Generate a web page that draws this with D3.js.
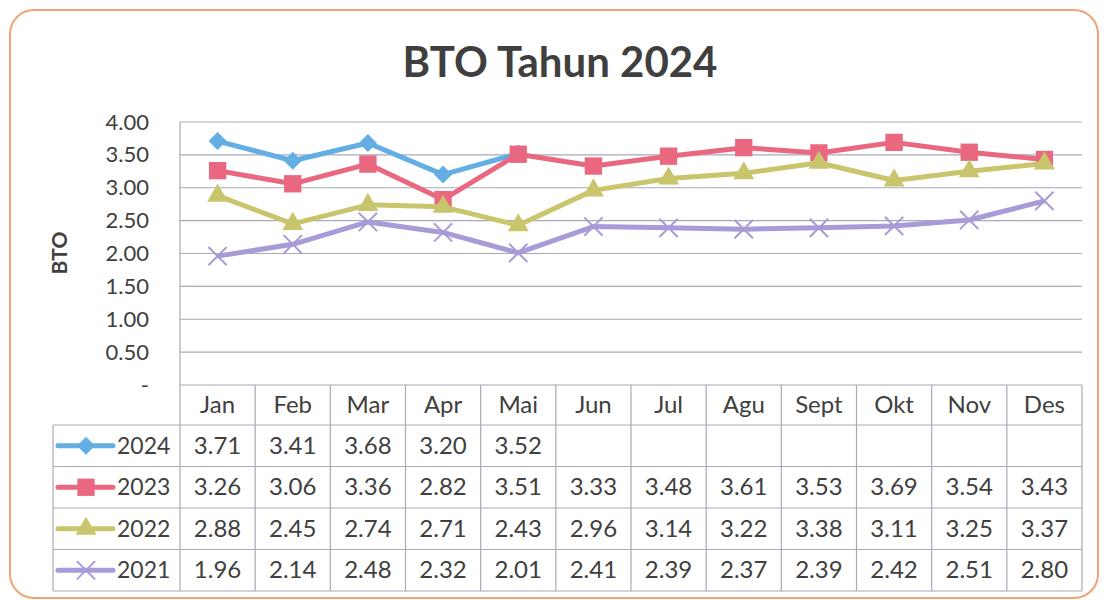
<!DOCTYPE html>
<html>
<head>
<meta charset="utf-8">
<script src="https://cdn.jsdelivr.net/npm/d3@7"></script>
<style>
  body { margin: 0; background: #fff; }
  text { font-family: Lato, "Open Sans", sans-serif; fill: #404040; }
</style>
</head>
<body>
<svg width="1104" height="600"></svg>
<script>
const months = ["Jan", "Feb", "Mar", "Apr", "Mai", "Jun", "Jul", "Agu", "Sept", "Okt", "Nov", "Des"];
const years = ["2024", "2023", "2022", "2021"];
const bto2024 = [3.71, 3.41, 3.68, 3.20, 3.52];
const bto2023 = [3.26, 3.06, 3.36, 2.82, 3.51, 3.33, 3.48, 3.61, 3.53, 3.69, 3.54, 3.43];
const bto2022 = [2.88, 2.45, 2.74, 2.71, 2.43, 2.96, 3.14, 3.22, 3.38, 3.11, 3.25, 3.37];
const bto2021 = [1.96, 2.14, 2.48, 2.32, 2.01, 2.41, 2.39, 2.37, 2.39, 2.42, 2.51, 2.80];
const yTicks = [0, 0.5, 1, 1.5, 2, 2.5, 3, 3.5, 4];

const series = [
    { year: "2024", values: bto2024, color: "#63aee3", marker: "diamond" },
    { year: "2023", values: bto2023, color: "#e9677f", marker: "square" },
    { year: "2022", values: bto2022, color: "#c9c56d", marker: "triangle" },
    { year: "2021", values: bto2021, color: "#a99bd8", marker: "x" }
];

const svg = d3.select("svg");
const plotLeft = 180, plotRight = 1082, plotTop = 122, plotBottom = 385;
const tableLeft = 53, tableBottom = 591;
const gridColor = "#a9a9b8";

// frame
svg.append("rect")
    .attr("x", 10).attr("y", 10)
    .attr("width", 1088).attr("height", 588)
    .attr("rx", 24)
    .attr("fill", "#fff")
    .attr("stroke", "#f2a27a")
    .attr("stroke-width", 2);

// title
svg.append("text")
    .attr("x", 560).attr("y", 77)
    .attr("text-anchor", "middle")
    .attr("font-size", 42)
    .attr("font-weight", "bold")
    .style("fill", "#3f3f3f")
    .text("BTO Tahun 2024");

const x = d3.scaleBand().domain(months).range([plotLeft, plotRight]);
const y = d3.scaleLinear().domain([0, 4]).range([plotBottom, plotTop]);
const row = d3.scaleBand().domain(years).range([plotBottom + 40, tableBottom]);

// gridlines
svg.append("g")
    .selectAll("line")
    .data(yTicks)
    .join("line")
    .attr("x1", plotLeft).attr("x2", plotRight)
    .attr("y1", d => y(d)).attr("y2", d => y(d))
    .attr("stroke", gridColor)
    .attr("stroke-width", 1.2);

// y axis labels
const yAxis = svg.append("g")
    .attr("transform", `translate(${plotLeft},0)`)
    .call(d3.axisLeft(y)
        .tickValues(yTicks)
        .tickSize(0)
        .tickPadding(31)
        .tickFormat(d => d === 0 ? "-" : d3.format(".2f")(d)));
yAxis.select(".domain").remove();
yAxis.selectAll("text")
    .attr("font-size", 22)
    .style("font-family", "Lato, sans-serif")
    .style("fill", "#404040");

svg.append("text")
    .attr("transform", "translate(67,253) rotate(-90)")
    .attr("text-anchor", "middle")
    .attr("font-size", 21)
    .attr("font-weight", "bold")
    .text("BTO");

// table lines
const table = svg.append("g").attr("stroke", gridColor).attr("stroke-width", 1.2);
table.append("line")
    .attr("x1", plotLeft).attr("x2", plotLeft)
    .attr("y1", plotTop).attr("y2", tableBottom);
table.selectAll(".col")
    .data(months)
    .join("line")
    .attr("x1", d => x(d) + x.bandwidth()).attr("x2", d => x(d) + x.bandwidth())
    .attr("y1", plotBottom).attr("y2", tableBottom);
table.selectAll(".row")
    .data(years)
    .join("line")
    .attr("x1", tableLeft).attr("x2", plotRight)
    .attr("y1", d => row(d)).attr("y2", d => row(d));
table.append("line")
    .attr("x1", tableLeft).attr("x2", plotRight)
    .attr("y1", tableBottom).attr("y2", tableBottom);
table.append("line")
    .attr("x1", tableLeft).attr("x2", tableLeft)
    .attr("y1", row(years[0])).attr("y2", tableBottom);

// month header
svg.append("g")
    .selectAll("text")
    .data(months)
    .join("text")
    .attr("x", d => x(d) + x.bandwidth() / 2)
    .attr("y", plotBottom + 28)
    .attr("text-anchor", "middle")
    .attr("font-size", 24)
    .text(d => d);

// markers
function markerPath(type) {
    if (type === "diamond") return "M0,-9L9,0L0,9L-9,0Z";
    if (type === "square") return d3.symbol(d3.symbolSquare, 300)();
    if (type === "triangle") return d3.symbol(d3.symbolTriangle, 190)();
    return d3.symbol(d3.symbolX, 220)();
}
function drawMarker(g, s) {
    g.append("path")
        .attr("d", markerPath(s.marker))
        .attr("fill", s.marker === "x" ? "none" : s.color)
        .attr("stroke", s.color)
        .attr("stroke-width", s.marker === "x" ? 2 : 0);
}

const line = d3.line()
    .x((d, i) => x(months[i]) + x.bandwidth() / 2)
    .y(d => y(d));

series.forEach(s => {
    const g = svg.append("g");
    g.append("path")
        .datum(s.values)
        .attr("d", line)
        .attr("fill", "none")
        .attr("stroke", s.color)
        .attr("stroke-width", 5)
        .attr("stroke-linejoin", "round");
    g.selectAll(".pt")
        .data(s.values)
        .join("g")
        .attr("transform", (d, i) => `translate(${x(months[i]) + x.bandwidth() / 2},${y(d)})`)
        .each(function() { drawMarker(d3.select(this), s); });

    // table row
    const cy = row(s.year) + row.bandwidth() / 2;
    const key = svg.append("g");
    key.append("line")
        .attr("x1", 58).attr("x2", 113)
        .attr("y1", cy).attr("y2", cy)
        .attr("stroke", s.color)
        .attr("stroke-width", 5)
        .attr("stroke-linecap", "round");
    drawMarker(key.append("g").attr("transform", `translate(86,${cy})`), s);
    key.append("text")
        .attr("x", 117).attr("y", cy + 8)
        .attr("font-size", 23)
        .text(s.year);

    svg.append("g")
        .selectAll("text")
        .data(s.values)
        .join("text")
        .attr("x", (d, i) => x(months[i]) + x.bandwidth() / 2)
        .attr("y", cy + 8)
        .attr("text-anchor", "middle")
        .attr("font-size", 24)
        .text(d => d3.format(".2f")(d));
});
</script>
</body>
</html>
